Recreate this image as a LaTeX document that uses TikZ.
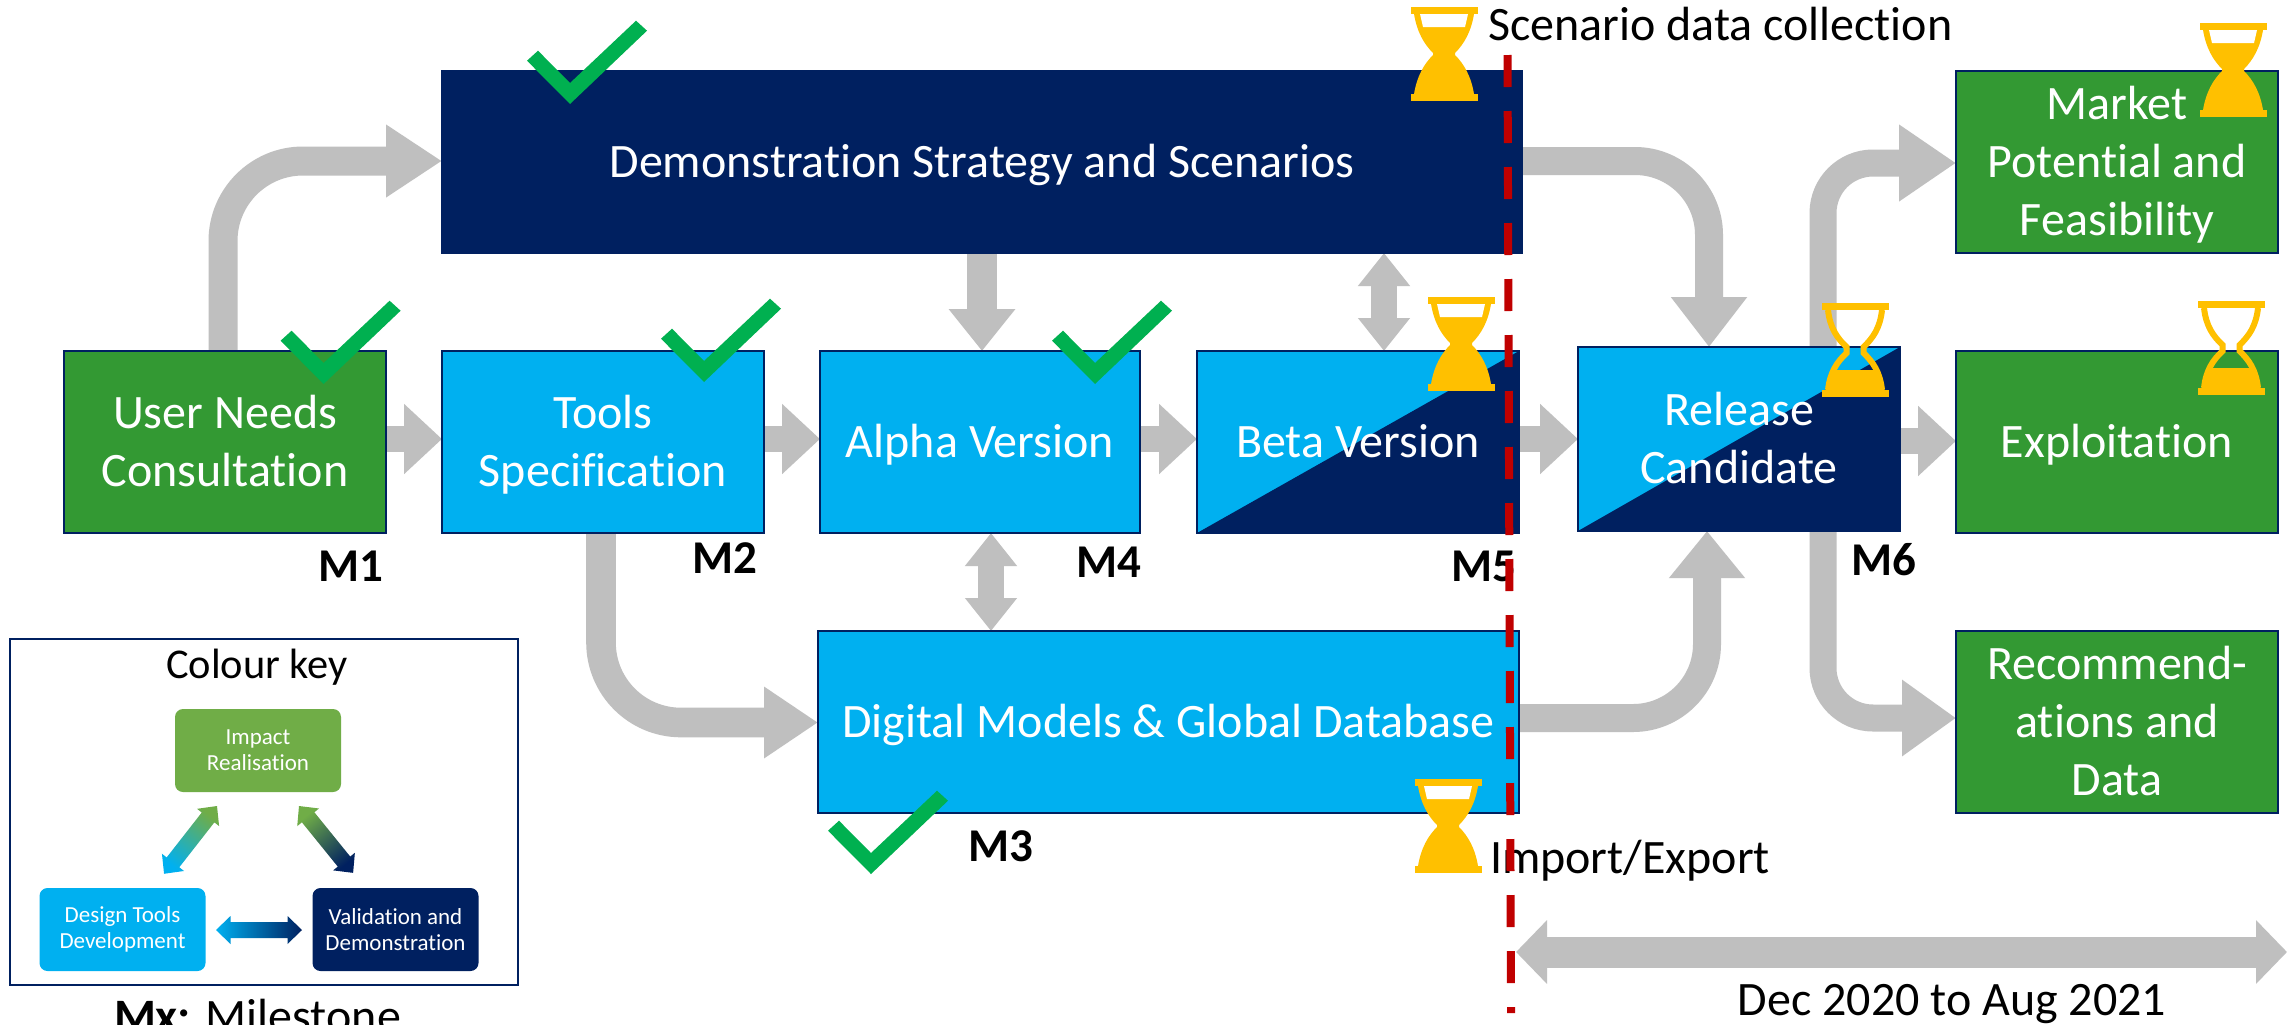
\documentclass[tikz,border=0pt]{standalone}
\usepackage{fontspec}
\setmainfont{Carlito}[Ligatures=NoCommon]
\usetikzlibrary{arrows.meta,backgrounds,calc}
\definecolor{navy}{HTML}{002060}
\definecolor{sky}{HTML}{00B0F0}
\definecolor{leaf}{HTML}{339933}
\definecolor{lime}{HTML}{70AD47}
\definecolor{pipe}{HTML}{BFBFBF}
\definecolor{gold}{HTML}{FFC000}
\definecolor{tickgreen}{HTML}{00B050}
\definecolor{redline}{HTML}{C00000}
\newcommand{\st}{\rule[-6.5pt]{0pt}{28.3pt}}
\tikzset{
  box/.style={rectangle,draw=navy,line width=1.4pt,inner sep=0pt,outer sep=0pt,text=white,align=center,
    font=\fontsize{24}{29}\selectfont,minimum width=161pt,minimum height=91pt},
  split/.style={fill=sky,path picture={\fill[navy] (path picture bounding box.south west)--(path picture bounding box.north east)--(path picture bounding box.south east)--cycle;}},
  keybox/.style={rectangle,rounded corners=4pt,inner sep=0pt,outer sep=0pt,text=white,align=center,
    font=\fontsize{11.5}{13}\selectfont,minimum width=83pt,minimum height=41.5pt},
  plain/.style={inner sep=0pt,outer sep=0pt,text=black,font=\fontsize{24}{28}\selectfont},
  mile/.style={inner sep=0pt,outer sep=0pt,text=black,font=\fontsize{23.5}{28}\selectfont\bfseries},
  flow/.style n args={3}{draw=pipe,line width=#1pt,-{Triangle[length=#2pt,width=#3pt]}},
  smallflow/.style={flow={13}{19}{34}},
  downflow/.style={flow={15}{21}{32}},
  twoway/.style={draw=pipe,line width=13pt,{Triangle[length=16.5pt,width=25pt]}-{Triangle[length=16.5pt,width=25pt]}},
  span/.style={draw=pipe,line width=15.5pt,{Triangle[length=15.5pt,width=31pt]}-{Triangle[length=15.5pt,width=31pt]}},
  tick/.pic={\fill[tickgreen] (-32,-53.3)--(-43,-43.3)--(0,0)--(77,-73.3)--(66,-83.3)--(0,-21)--cycle;},
  hourfull/.pic={
    \fill[gold] (-33.5,-47) rectangle (33.5,-40);
    \fill[gold] (-33.5,40) rectangle (33.5,47);
    \fill[gold] (-30,-40) .. controls (-27,-22) and (-20,-10) .. (-11,-1) -- (-11,1)
      .. controls (-20,10) and (-27,22) .. (-30,40) -- (30,40)
      .. controls (27,22) and (20,10) .. (11,1) -- (11,-1)
      .. controls (20,-10) and (27,-22) .. (30,-40) -- cycle;
    \fill[white] (-24,-40)--(24,-40)--(21,-27)--(-21,-27)--cycle;},
  hourempty/.pic={
    \fill[gold] (-33.5,-47) rectangle (33.5,-40);
    \fill[gold] (-33.5,40) rectangle (33.5,47);
    \draw[gold,line width=3pt] (-27,-40) .. controls (-25,-22) and (-18,-12) .. (-8.5,-3) -- (-8.5,3)
      .. controls (-18,12) and (-25,22) .. (-27,40);
    \draw[gold,line width=3pt] (27,-40) .. controls (25,-22) and (18,-12) .. (8.5,-3) -- (8.5,3)
      .. controls (18,12) and (25,22) .. (27,40);
    \fill[gold] (-28,40)--(-22,20)--(22,20)--(28,40)--cycle;}
}
\newcommand{\gradpoly}{(0,0)--(14.5,-14)--(14.5,-8)--(71.5,-8)--(71.5,-14)--(86,0)--(71.5,14)--(71.5,8)--(14.5,8)--(14.5,14)--cycle}
\begin{document}
\begin{tikzpicture}[x=0.5pt,y=-0.5pt]
\useasboundingbox (0,0) rectangle (2295,1024);
% boxes
\node[box,fill=navy,minimum width=540pt] (demo) at (982,162) {\st Demonstration Strategy and Scenarios};
\node[box,fill=leaf] (user) at (225,442) {\st User Needs\\\st Consultation};
\node[box,fill=sky] (tools) at (603,442) {\st Tools\\\st Specification};
\node[box,fill=sky,minimum width=160pt] (alpha) at (980,442) {\st Alpha Version};
\node[box,split] (beta) at (1358,442) {\st Beta Version};
\node[box,split,minimum height=92pt] (release) at (1739,439) {\st Release\\\st Candidate};
\node[box,fill=sky,minimum width=350.5pt] (digital) at (1168.5,722) {\st Digital Models \& Global Database};
\node[box,fill=leaf] (market) at (2117,162) {\st Market\\\st Potential and\\\st Feasibility};
\node[box,fill=leaf] (exploit) at (2117,442) {\st Exploitation};
\node[box,fill=leaf] (recomm) at (2117,722) {\st Recommend-\\\st ations and\\\st Data};
% connectors
\begin{scope}[on background layer]
\fill[white] (0,0) rectangle (2295,1024);
\draw[flow={14.5}{28}{34.5},rounded corners=40pt] (223,0 |- user.north) |- (demo.west |- 0,161);
\draw[flow={14}{25}{36.5},rounded corners=37pt] (demo.east |- 0,161) -| (1709,0 |- release.north);
\draw[flow={13.5}{28.5}{36.5},rounded corners=25pt] (1823,0 |- release.north) |- (market.west |- 0,163);
\draw[flow={13.5}{27}{36.5},rounded corners=25pt] (1823,0 |- release.south) |- (recomm.west |- 0,718);
\draw[flow={14}{23.5}{36.5},rounded corners=37pt] (digital.east |- 0,718) -| (1707,0 |- release.south);
\draw[flow={14.8}{27}{34},rounded corners=40pt] (601,0 |- tools.south) |- (digital.west |- 0,722.5);
\draw[smallflow] (user.east |- 0,439) -- (tools.west |- 0,439);
\draw[smallflow] (tools.east |- 0,439) -- (alpha.west |- 0,439);
\draw[smallflow] (alpha.east |- 0,439) -- (beta.west |- 0,439);
\draw[smallflow] (beta.east |- 0,439) -- (release.west |- 0,439);
\draw[smallflow] (release.east |- 0,441) -- (exploit.west |- 0,441);
\draw[downflow] (982,0 |- demo.south) -- (982,0 |- alpha.north);
\draw[twoway] (1384,0 |- demo.south) -- (1384,0 |- beta.north);
\draw[twoway] (991,0 |- alpha.south) -- (991,0 |- digital.north);
\end{scope}
% milestones
\node[mile] (m1) at (351,566) {M1};
\node[mile] (m2) at (724.5,558.5) {M2};
\node[mile] (m4) at (1109,562) {M4};
\node[mile] (m5) at (1484,566) {M5};
\node[mile] (m6) at (1884,560) {M6};
\node[mile] (m3) at (1001,846) {M3};
% labels
\node[plain,anchor=base west] (scen) at (1488,40) {Scenario data collection};
\node[plain,anchor=base west] (imp) at (1490,873) {Import/Export};
\node[plain,anchor=base] (dates) at (1952,1015) {Dec 2020 to Aug 2021};
% ticks
\pic at (570,104) {tick};
\pic at (323.6,384) {tick};
\pic at (704,382) {tick};
\pic at (1095,384) {tick};
\pic at (871,874) {tick};
% hourglasses
\pic at (1444,54) {hourfull};
\pic at (1461,344) {hourfull};
\pic at (1855,350) {hourempty};
\pic at (2233,70) {hourfull};
\pic at (2231,348) {hourempty};
\pic at (1448,826) {hourfull};
% time span
\coordinate (spanl) at (1516,952);
\coordinate (spanr) at (2287,952);
\draw[span] (spanl) -- (spanr);
% colour key
\node[rectangle,draw=navy,line width=1.4pt,fill=white,inner sep=0pt,outer sep=0pt,minimum width=254pt,minimum height=173pt] (key) at (264,812) {};
\node[plain,font=\fontsize{21.2}{25}\selectfont,anchor=base] (keytitle) at (257,678) {Colour key};
\node[keybox,fill=lime] (impact) at (258,750.5) {Impact\\Realisation};
\node[keybox,fill=sky] (design) at (122.5,929.5) {Design Tools\\Development};
\node[keybox,fill=navy] (valid) at (395.5,929.5) {Validation and\\Demonstration};
\shade[shading=axis,top color=sky,bottom color=navy,shading angle=90,shift={(216,930)}] \gradpoly;
\shade[shading=axis,top color=lime,bottom color=sky,shading angle=-38,shift={(217,806)},rotate=232] \gradpoly;
\shade[shading=axis,top color=lime,bottom color=navy,shading angle=39,shift={(299,806)},rotate=-51] \gradpoly;
\node[plain,anchor=base west] (mx) at (114,1032) {\textbf{Mx:} Milestone};
% cut-off line
\coordinate (cuttop) at (1507.5,55);
\coordinate (cutbot) at (1511,1013);
\draw[redline,line width=4pt,dash pattern=on 16pt off 12pt] (cuttop) -- (cutbot);
\end{tikzpicture}
\end{document}
